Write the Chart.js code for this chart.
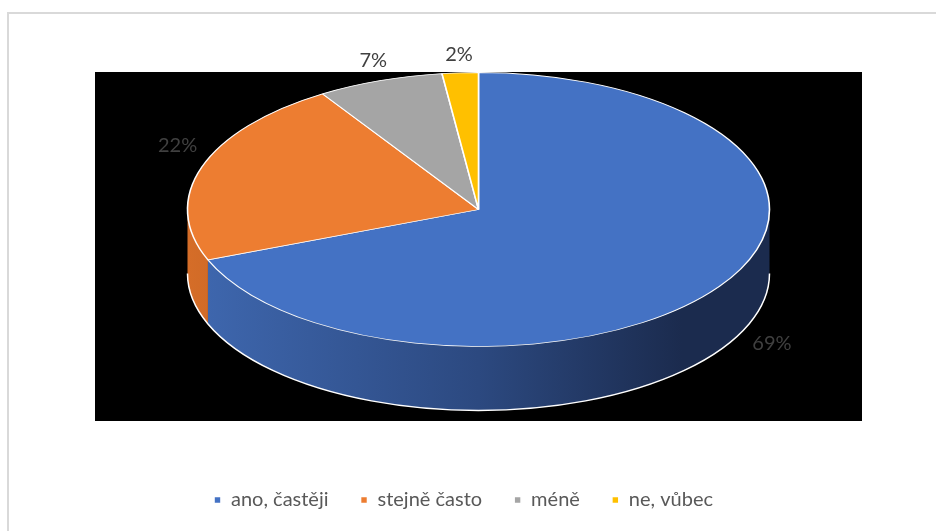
<!DOCTYPE html>
<html>
<head>
<meta charset="utf-8">
<script src="https://cdn.jsdelivr.net/npm/chart.js@4.4.1/dist/chart.umd.min.js"></script>
<style>
  html, body { margin: 0; padding: 0; background: #fff; }
  #ramecek { position: absolute; left: 7px; top: 12px; width: 940px; height: 530px;
             border-left: 2px solid #d9d9d9; border-top: 2px solid #d9d9d9; }
  #obal { position: absolute; left: 0; top: 0; width: 936px; height: 531px; }
</style>
</head>
<body>
<div id="ramecek"></div>
<div id="obal"><canvas id="graf"></canvas></div>
<script>
// odpovědi a jejich podíly (%)
const kategorie = ['ano, častěji', 'stejně často', 'méně', 'ne, vůbec'];
const podily = [69, 22, 7, 2];
const barvy = ['#4472c4', '#ed7d31', '#a5a5a5', '#ffc000'];
// boky výsečí – přechod zleva doprava
const bokSvetly = ['#3f68b0', '#d56d28', '#8f8f8f', '#d9a300'];
const bokStredni = ['#2c4980', '#9c501d', '#6a6a6a', '#a07800'];
const bokTmavy = ['#1b2b4e', '#5e3210', '#444444', '#6b5000'];

const POLOMER = 291;       // vodorovná poloosa
const NAKLON = 137 / 291;  // poměr os elipsy
const HLOUBKA = 64;        // výška boku v px
const ZDVIH = 37;          // posun středu nahoru v ploše

function prevod(ctx, cx, cy) {
  ctx.translate(cx, cy - ZDVIH);
  ctx.scale(1, NAKLON);
  ctx.translate(-cx, -cy);
}

const kolac3d = {
  id: 'kolac3d',
  beforeDraw(chart) {
    const { ctx, chartArea: a } = chart;
    ctx.save();
    ctx.fillStyle = '#000';
    ctx.fillRect(a.left, a.top, a.right - a.left, a.bottom - a.top);
    ctx.restore();
  },
  beforeDatasetsDraw(chart) {
    const ctx = chart.ctx;
    const oblouky = chart.getDatasetMeta(0).data;
    const { x: cx, y: cy, outerRadius: r } = oblouky[0];
    const d = HLOUBKA / NAKLON;

    ctx.save();
    prevod(ctx, cx, cy);
    oblouky.forEach((arc, i) => {
      const a0 = Math.max(arc.startAngle, 0);
      const a1 = Math.min(arc.endAngle, Math.PI);
      if (a1 <= a0) return;
      const g = ctx.createLinearGradient(cx - r, 0, cx + r, 0);
      g.addColorStop(0, bokSvetly[i]);
      g.addColorStop(0.5, bokStredni[i]);
      g.addColorStop(0.85, bokTmavy[i]);
      g.addColorStop(1, bokTmavy[i]);
      ctx.beginPath();
      ctx.arc(cx, cy, r, a0, a1);
      ctx.arc(cx, cy + d, r, a1, a0, true);
      ctx.closePath();
      ctx.fillStyle = g;
      ctx.fill();
    });
    // spodní obrys boku
    ctx.beginPath();
    ctx.arc(cx, cy + d, r, 0, Math.PI);
    ctx.restore();
    ctx.save();
    ctx.strokeStyle = '#ffffff';
    ctx.lineWidth = 1.5;
    ctx.stroke();
    ctx.restore();

    // horní plocha se kreslí ve stejném zkosení
    ctx.save();
    prevod(ctx, cx, cy);
  },
  afterDatasetsDraw(chart) {
    const ctx = chart.ctx;
    ctx.restore();

    // popisky s procenty
    const oblouky = chart.getDatasetMeta(0).data;
    const { x: cx, y: cy, outerRadius: r } = oblouky[0];
    const ry = r * NAKLON;
    ctx.save();
    ctx.font = '20px Lato, "Open Sans", sans-serif';
    ctx.fillStyle = '#404040';
    ctx.textAlign = 'center';
    ctx.textBaseline = 'middle';
    oblouky.forEach((arc, i) => {
      const stred = (arc.startAngle + arc.endAngle) / 2;
      const sx = Math.cos(stred), sy = Math.sin(stred);
      const text = podily[i] + '%';
      const tw = ctx.measureText(text).width;
      let x = cx + sx * (r * 1.02 + tw / 2);
      let y = cy - ZDVIH + sy * (ry * 1.07 + 9);
      if (sy > 0) {
        x += sx * HLOUBKA * 0.6;
        y += sy * HLOUBKA * 1.3;
      } else {
        // zadní strana je v perspektivě užší, boční popisky jdou výš
        y -= 18 * sx * sx;
      }
      ctx.fillText(text, x, y);
    });
    ctx.restore();
  }
};

new Chart(document.getElementById('graf'), {
  type: 'pie',
  data: {
    labels: kategorie,
    datasets: [{
      data: podily,
      backgroundColor: barvy,
      borderColor: '#ffffff',
      borderWidth: 1.6,
      radius: POLOMER
    }]
  },
  options: {
    responsive: true,
    maintainAspectRatio: false,
    animation: false,
    events: [],
    layout: { padding: { left: 65, right: 74, top: 72, bottom: 11 } },
    plugins: {
      tooltip: { enabled: false },
      // prázdné titulky slouží jen jako mezery kolem plochy
      title: {
        display: true,
        text: '',
        position: 'bottom',
        weight: 500,
        font: { size: 10 },
        padding: { top: 0, bottom: 25 }
      },
      subtitle: {
        display: true,
        text: '',
        position: 'left',
        font: { size: 10 },
        padding: { top: 18, bottom: 0 }
      },
      legend: {
        position: 'bottom',
        labels: {
          boxWidth: 7,
          boxHeight: 7,
          padding: 32,
          color: '#595959',
          font: { family: 'Lato, "Open Sans", sans-serif', size: 20 }
        }
      }
    }
  },
  plugins: [kolac3d]
});
</script>
</body>
</html>
